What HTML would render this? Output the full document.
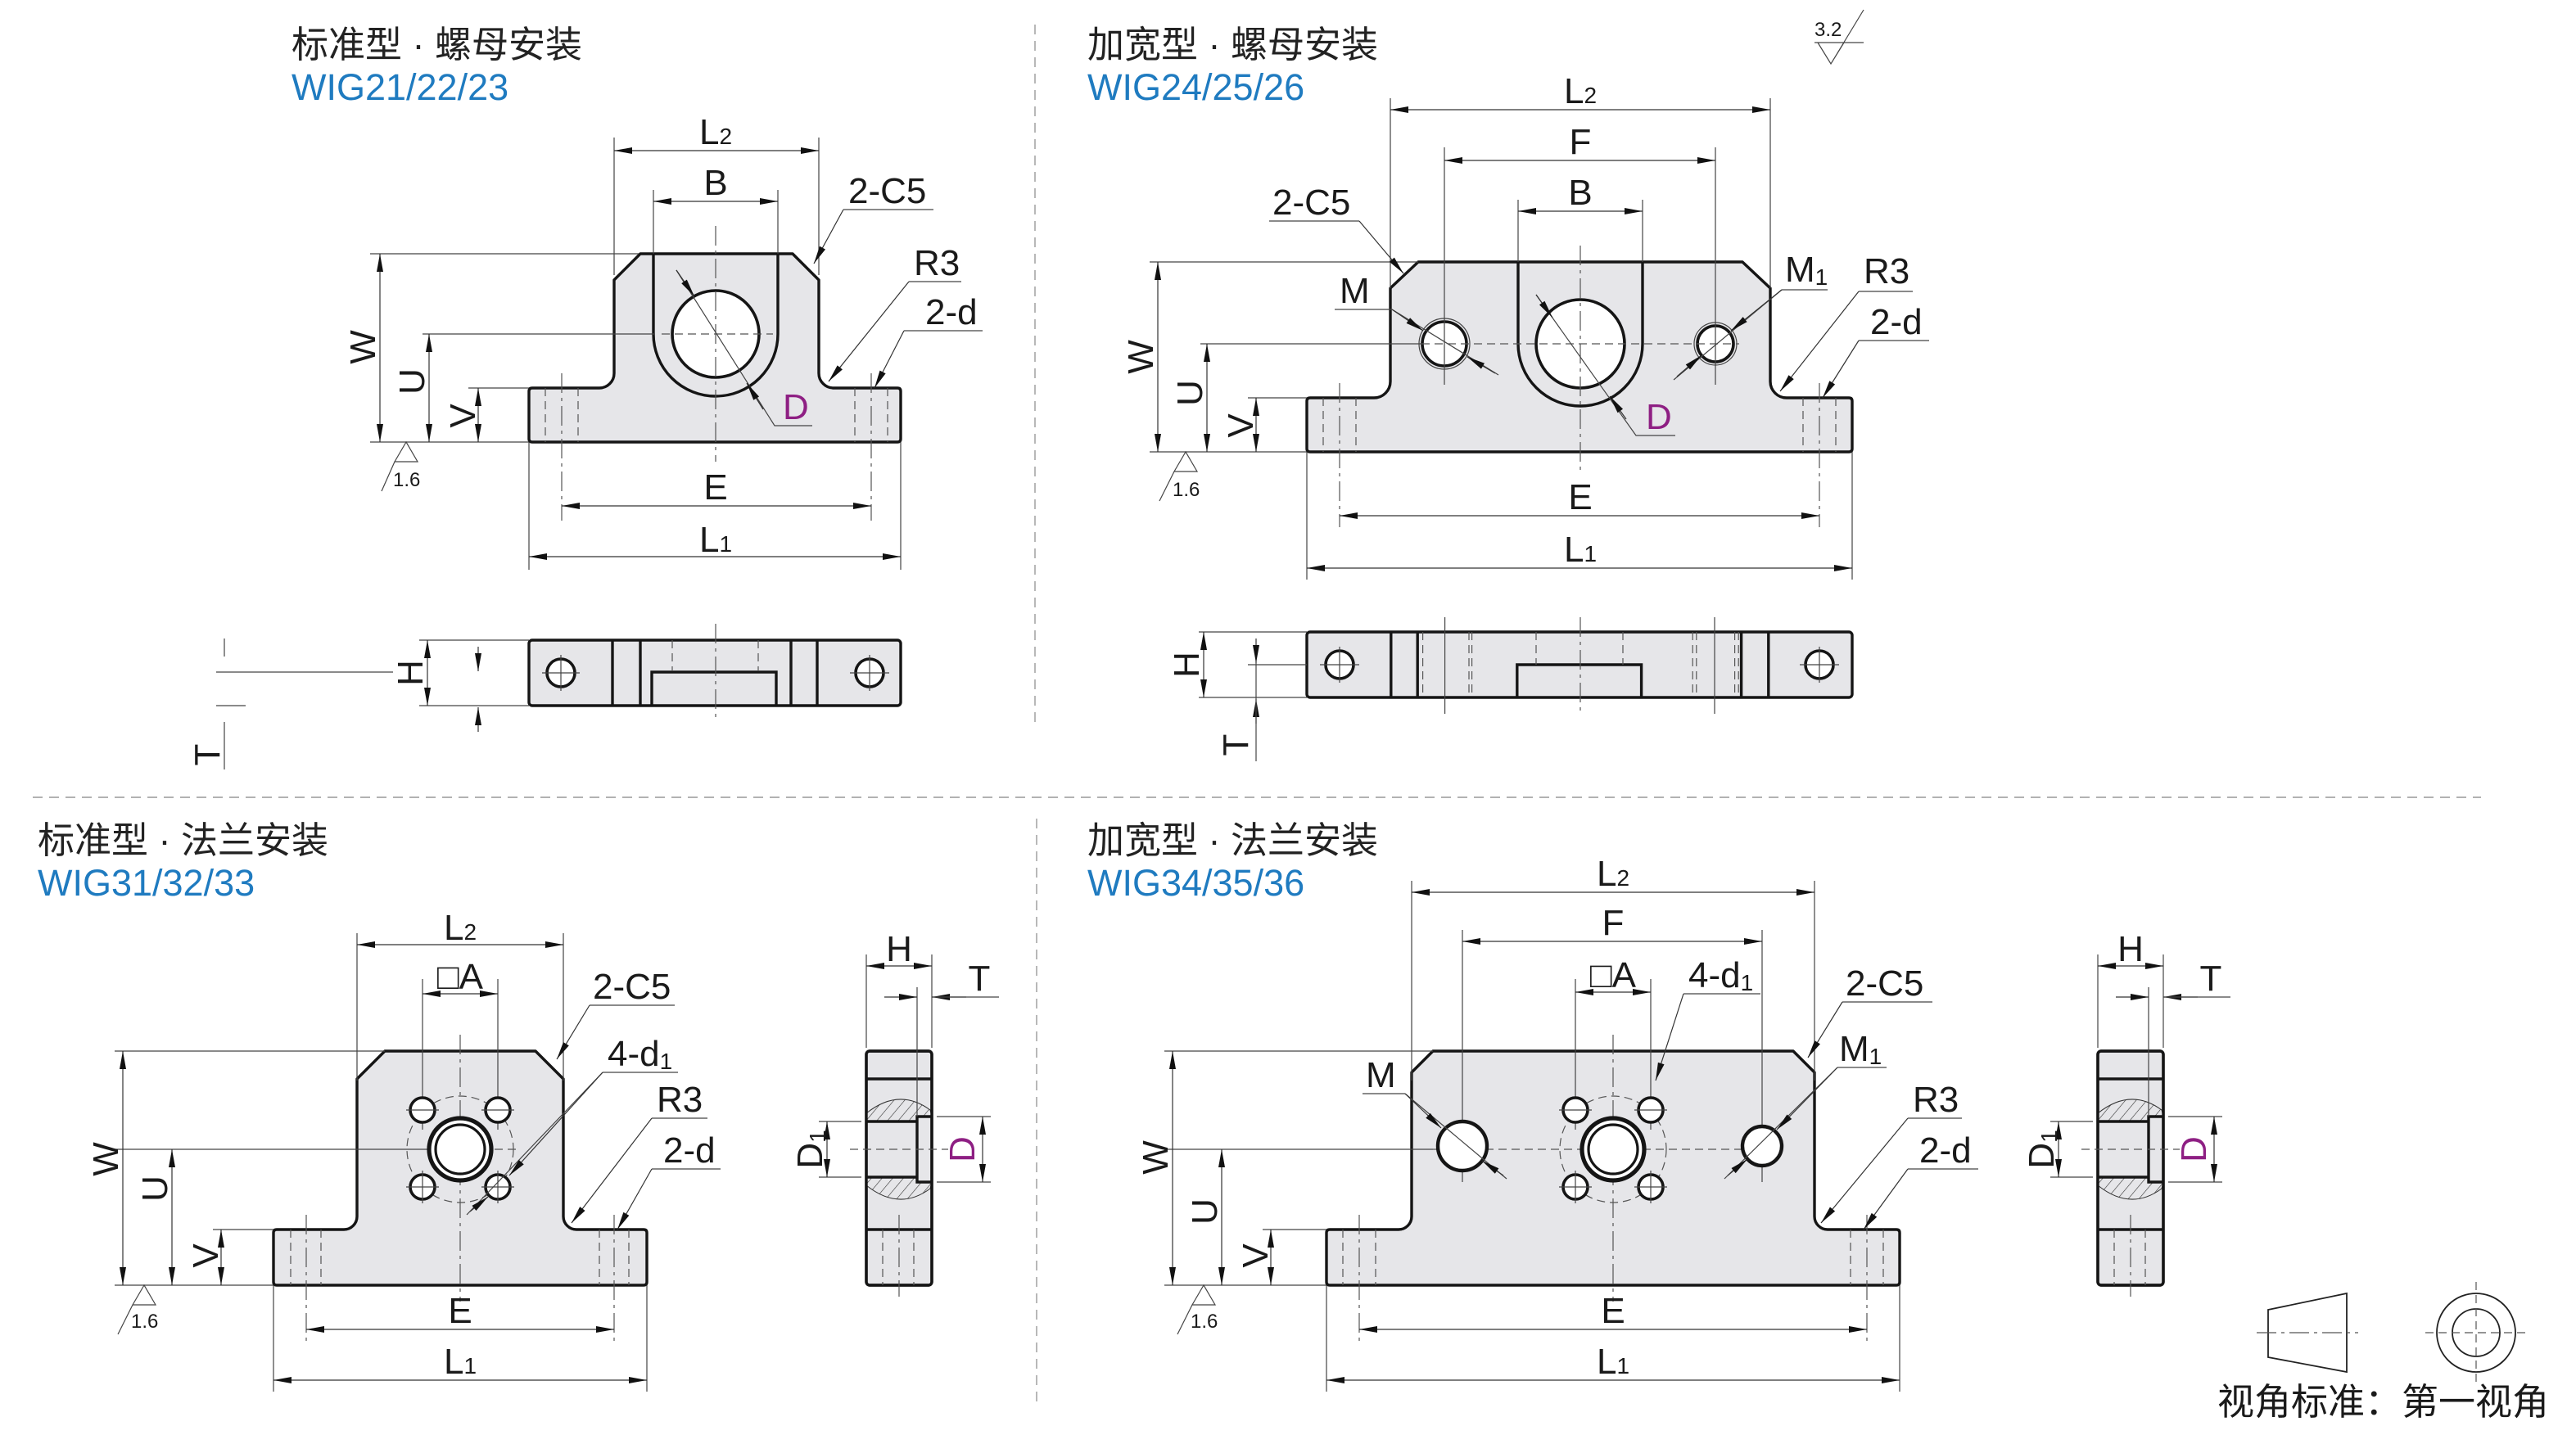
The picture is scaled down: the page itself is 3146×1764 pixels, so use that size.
<!DOCTYPE html>
<html><head><meta charset="utf-8"><style>
html,body{margin:0;padding:0;background:#fff}
svg{display:block}
.k{stroke:#151515;stroke-width:1.7;fill:#e6e6e9;stroke-linejoin:round}
.ko{stroke:#151515;stroke-width:1.7;fill:none}
.t{stroke:#444;stroke-width:0.6;fill:none}
.cl{stroke:#555;stroke-width:0.6;fill:none;stroke-dasharray:12 3 2 3}
.dh{stroke:#555;stroke-width:0.6;fill:none;stroke-dasharray:5 3}
.dm{stroke:#333;stroke-width:0.6;fill:none;marker-start:url(#a);marker-end:url(#a)}
.ld{stroke:#333;stroke-width:0.6;fill:none;marker-end:url(#a)}
.hole{fill:#fff;stroke:#151515;stroke-width:1.8}
text{font-family:"Liberation Sans","Noto Sans CJK SC",sans-serif;font-size:22px;fill:#1a1a1a}
.c{text-anchor:middle}
.ti{font-size:22.5px;fill:#222}
.bl{font-size:22.5px;fill:#1f7bc0}
.mg{fill:#8e1f83}
.s{font-size:14px}
</style></head><body>
<svg width="3146" height="1764" viewBox="0 0 1573 882" xmlns="http://www.w3.org/2000/svg">
<defs>
<marker id="a" viewBox="-12 -3 13 6" refX="0" refY="0" markerWidth="13" markerHeight="6" markerUnits="userSpaceOnUse" orient="auto-start-reverse">
<path d="M0,0 L-11,-2 L-11,2 Z" fill="#111"/></marker>
<pattern id="h" width="5" height="5" patternUnits="userSpaceOnUse" patternTransform="rotate(40)">
<rect width="5" height="5" fill="#e6e6e9"/><line x1="0" y1="0" x2="0" y2="5" stroke="#333" stroke-width="0.6"/></pattern>
</defs>

<line x1="632" y1="15" x2="632" y2="445" stroke="#999" stroke-width="0.7" stroke-dasharray="6 4"/>
<line x1="633" y1="500" x2="633" y2="860" stroke="#999" stroke-width="0.7" stroke-dasharray="6 4"/>
<line x1="20" y1="487" x2="1515" y2="487" stroke="#999" stroke-width="0.7" stroke-dasharray="6 4"/>

<text x="178" y="35" class="ti">标准型 · 螺母安装</text>
<text x="178" y="61" class="bl">WIG21/22/23</text>
<text x="664" y="35" class="ti">加宽型 · 螺母安装</text>
<text x="664" y="61" class="bl">WIG24/25/26</text>
<text x="23" y="521" class="ti">标准型 · 法兰安装</text>
<text x="23" y="547" class="bl">WIG31/32/33</text>
<text x="664" y="521" class="ti">加宽型 · 法兰安装</text>
<text x="664" y="547" class="bl">WIG34/35/36</text>

<text x="1108" y="22" style="font-size:12px">3.2</text>
<path d="M1108,26 L1138,26 M1110,26 L1118,39 L1126,26 M1118,39 L1138,6" class="t" stroke-width="0.8"/>

<!-- DRAWING 1 -->
<path class="k" d="M325,237 H366 A9,9 0 0 0 375,228 V171 L391,155 H484 L500,171 V228 A9,9 0 0 0 509,237 H548 Q550,237 550,239 V268 Q550,270 548,270 H325 Q323,270 323,268 V239 Q323,237 325,237 Z"/>
<path class="ko" d="M399,155 V204 A38,38 0 0 0 475,204 V155"/>
<circle class="hole" cx="437" cy="204" r="26.5"/>
<line class="cl" x1="437" y1="138" x2="437" y2="282"/>
<line class="t" x1="258" y1="204" x2="400" y2="204"/>
<line class="dh" x1="404" y1="204" x2="472" y2="204"/>
<line class="dh" x1="333" y1="237" x2="333" y2="270"/><line class="dh" x1="353" y1="237" x2="353" y2="270"/>
<line class="cl" x1="343" y1="228" x2="343" y2="318"/>
<line class="dh" x1="522" y1="237" x2="522" y2="270"/><line class="dh" x1="542" y1="237" x2="542" y2="270"/>
<line class="cl" x1="532" y1="228" x2="532" y2="318"/>
<line class="t" x1="375" y1="84" x2="375" y2="168"/><line class="t" x1="500" y1="84" x2="500" y2="168"/>
<line class="dm" x1="375" y1="92" x2="500" y2="92"/>
<text x="437" y="88" class="c">L<tspan class="s">2</tspan></text>
<line class="t" x1="399" y1="116" x2="399" y2="155"/><line class="t" x1="475" y1="116" x2="475" y2="155"/>
<line class="dm" x1="399" y1="123" x2="475" y2="123"/>
<text x="437" y="119" class="c">B</text>
<line class="t" x1="226" y1="155" x2="390" y2="155"/><line class="t" x1="226" y1="270" x2="323" y2="270"/>
<line class="dm" x1="232" y1="155" x2="232" y2="270"/>
<text transform="translate(229,212) rotate(-90)" class="c">W</text>
<line class="dm" x1="262" y1="204" x2="262" y2="270"/>
<text transform="translate(259,233) rotate(-90)" class="c">U</text>
<line class="t" x1="286" y1="237" x2="323" y2="237"/>
<line class="dm" x1="292" y1="237" x2="292" y2="270"/>
<text transform="translate(290,254) rotate(-90)" class="c">V</text>
<path class="t" stroke-width="0.8" d="M248,270 L241,282 H255 Z M241,282 L233,300"/>
<text x="240" y="297" style="font-size:12px">1.6</text>
<line class="dm" x1="343" y1="309" x2="532" y2="309"/>
<text x="437" y="305" class="c">E</text>
<line class="t" x1="323" y1="270" x2="323" y2="348"/><line class="t" x1="550" y1="270" x2="550" y2="348"/>
<line class="dm" x1="323" y1="340" x2="550" y2="340"/>
<text x="437" y="337" class="c">L<tspan class="s">1</tspan></text>
<text x="518" y="124">2-C5</text><line class="t" x1="515" y1="128" x2="570" y2="128"/>
<line class="ld" x1="515" y1="128" x2="497" y2="161"/>
<text x="558" y="168">R3</text><line class="t" x1="555" y1="172" x2="587" y2="172"/>
<line class="ld" x1="555" y1="172" x2="506" y2="233"/>
<text x="565" y="198">2-d</text><line class="t" x1="552" y1="202" x2="600" y2="202"/>
<line class="ld" x1="552" y1="202" x2="534" y2="237"/>
<path class="t" d="M413,165 L473,260 H496"/>
<line class="ld" x1="413" y1="165" x2="424" y2="181"/>
<line class="ld" x1="466" y1="250" x2="456" y2="234"/>
<text x="478" y="256" class="mg">D</text>
<rect class="k" x="323" y="391" width="227" height="40" rx="2"/>
<path class="ko" d="M374,391 V431 M391,391 V431 M483,391 V431 M499,391 V431 M398,431 V410.5 H474 V431"/>
<line class="dh" x1="410.5" y1="391" x2="410.5" y2="410"/><line class="dh" x1="463" y1="391" x2="463" y2="410"/>
<line class="cl" x1="437" y1="381" x2="437" y2="440"/>
<circle class="hole" cx="342.5" cy="411" r="8.5"/><circle class="hole" cx="531" cy="411" r="8.5"/>
<path class="t" d="M331,411 H354 M342.5,400 V422 M519,411 H543 M531,400 V422"/>
<line class="t" x1="256" y1="391" x2="323" y2="391"/><line class="t" x1="256" y1="431" x2="323" y2="431"/>
<line class="dm" x1="261" y1="391" x2="261" y2="431"/>
<text transform="translate(258,411) rotate(-90)" class="c">H</text>
<line class="ld" x1="292" y1="395" x2="292" y2="410"/>
<line class="ld" x1="292" y1="447" x2="292" y2="432"/>
<path class="t" d="M137,390 V401 M132,410.5 H240 M132,431 H150 M137,441 V470"/>
<text transform="translate(134,461) rotate(-90)" class="c">T</text>

<!-- DRAWING 2 -->
<path class="k" d="M800,243 H839 A10,10 0 0 0 849,233 V176 L866,160 H1064 L1081,176 V233 A10,10 0 0 0 1091,243 H1129 Q1131,243 1131,245 V274 Q1131,276 1129,276 H800 Q798,276 798,274 V245 Q798,243 800,243 Z"/>
<path class="ko" d="M927,160 V210 A38,38 0 0 0 1003,210 V160"/>
<circle class="hole" cx="965" cy="210" r="27"/>
<circle cx="882" cy="210" r="15.5" class="t"/><circle class="hole" cx="882" cy="210" r="13.5"/>
<circle cx="1047.5" cy="210" r="13" class="t"/><circle class="hole" cx="1047.5" cy="210" r="11"/>
<line class="cl" x1="965" y1="150" x2="965" y2="288"/>
<line class="t" x1="733" y1="210" x2="868" y2="210"/>
<line class="dh" x1="868" y1="210" x2="1062" y2="210"/>
<line class="t" x1="882" y1="90" x2="882" y2="235"/><line class="t" x1="1047.5" y1="90" x2="1047.5" y2="235"/>
<line class="dh" x1="808" y1="243" x2="808" y2="276"/><line class="dh" x1="828" y1="243" x2="828" y2="276"/>
<line class="cl" x1="818" y1="234" x2="818" y2="322"/>
<line class="dh" x1="1101" y1="243" x2="1101" y2="276"/><line class="dh" x1="1121" y1="243" x2="1121" y2="276"/>
<line class="cl" x1="1111" y1="234" x2="1111" y2="322"/>
<line class="t" x1="849" y1="60" x2="849" y2="176"/><line class="t" x1="1081" y1="60" x2="1081" y2="176"/>
<line class="dm" x1="849" y1="67" x2="1081" y2="67"/>
<text x="965" y="63" class="c">L<tspan class="s">2</tspan></text>
<line class="dm" x1="882" y1="98" x2="1047.5" y2="98"/>
<text x="965" y="94" class="c">F</text>
<line class="t" x1="927" y1="122" x2="927" y2="160"/><line class="t" x1="1003" y1="122" x2="1003" y2="160"/>
<line class="dm" x1="927" y1="129" x2="1003" y2="129"/>
<text x="965" y="125" class="c">B</text>
<line class="t" x1="702" y1="160" x2="866" y2="160"/><line class="t" x1="702" y1="276" x2="798" y2="276"/>
<line class="dm" x1="707" y1="160" x2="707" y2="276"/>
<text transform="translate(704,218) rotate(-90)" class="c">W</text>
<line class="dm" x1="737" y1="210" x2="737" y2="276"/>
<text transform="translate(734,240) rotate(-90)" class="c">U</text>
<line class="t" x1="762" y1="243" x2="798" y2="243"/>
<line class="dm" x1="767" y1="243" x2="767" y2="276"/>
<text transform="translate(765,260) rotate(-90)" class="c">V</text>
<path class="t" stroke-width="0.8" d="M724,276 L717,288 H731 Z M717,288 L708,306"/>
<text x="716" y="303" style="font-size:12px">1.6</text>
<line class="dm" x1="818" y1="315" x2="1111" y2="315"/>
<text x="965" y="311" class="c">E</text>
<line class="t" x1="798" y1="276" x2="798" y2="354"/><line class="t" x1="1131" y1="276" x2="1131" y2="354"/>
<line class="dm" x1="798" y1="347" x2="1131" y2="347"/>
<text x="965" y="343" class="c">L<tspan class="s">1</tspan></text>
<text x="777" y="131">2-C5</text><line class="t" x1="775" y1="135" x2="830" y2="135"/>
<line class="ld" x1="830" y1="135" x2="857" y2="167"/>
<text x="818" y="185">M</text><line class="t" x1="815" y1="189" x2="850" y2="189"/>
<path class="t" d="M850,189 L915,229"/>
<line class="ld" x1="850" y1="189" x2="869" y2="202"/>
<line class="ld" x1="913" y1="228" x2="896" y2="218"/>
<text x="1090" y="172">M<tspan class="s" dy="2">1</tspan></text><line class="t" x1="1088" y1="177" x2="1116" y2="177"/>
<path class="t" d="M1088,177 L1022,232"/>
<line class="ld" x1="1088" y1="177" x2="1057" y2="202"/>
<line class="ld" x1="1024" y1="230" x2="1039" y2="217"/>
<text x="1138" y="173">R3</text><line class="t" x1="1135" y1="178" x2="1168" y2="178"/>
<line class="ld" x1="1135" y1="178" x2="1087" y2="239"/>
<text x="1142" y="204">2-d</text><line class="t" x1="1135" y1="208" x2="1178" y2="208"/>
<line class="ld" x1="1135" y1="208" x2="1113" y2="243"/>
<path class="t" d="M938,180 L999,266 H1023"/>
<line class="ld" x1="938" y1="180" x2="948" y2="194"/>
<line class="ld" x1="993" y1="256" x2="983" y2="242"/>
<text x="1005" y="262" class="mg">D</text>
<rect class="k" x="798" y="386" width="333" height="40" rx="2"/>
<path class="ko" d="M849.4,386 V426 M865.6,386 V426 M1063.3,386 V426 M1079.9,386 V426 M926.4,426 V406 H1002.3 V426"/>
<g class="dh"><line x1="868.8" y1="386" x2="868.8" y2="426"/><line x1="897" y1="386" x2="897" y2="426"/><line x1="898.8" y1="386" x2="898.8" y2="426"/><line x1="938" y1="386" x2="938" y2="406"/><line x1="991" y1="386" x2="991" y2="406"/><line x1="1033.6" y1="386" x2="1033.6" y2="426"/><line x1="1035.9" y1="386" x2="1035.9" y2="426"/><line x1="1059.3" y1="386" x2="1059.3" y2="426"/><line x1="1061.6" y1="386" x2="1061.6" y2="426"/></g>
<line class="t" x1="882.3" y1="377" x2="882.3" y2="436"/><line class="cl" x1="965" y1="377" x2="965" y2="436"/><line class="t" x1="1047" y1="377" x2="1047" y2="436"/>
<circle class="hole" cx="818" cy="406" r="8.5"/><circle class="hole" cx="1111" cy="406" r="8.5"/>
<path class="t" d="M806,406 H830 M818,395 V417 M1099,406 H1123 M1111,395 V417 M762,406 H798"/>
<line class="t" x1="732" y1="386" x2="798" y2="386"/><line class="t" x1="732" y1="426" x2="798" y2="426"/>
<line class="dm" x1="735" y1="386" x2="735" y2="426"/>
<text transform="translate(732,406) rotate(-90)" class="c">H</text>
<line class="ld" x1="767" y1="390" x2="767" y2="405"/>
<line class="ld" x1="767" y1="442" x2="767" y2="427"/>
<line class="t" x1="767" y1="405" x2="767" y2="465"/>
<text transform="translate(762,455) rotate(-90)" class="c">T</text>

<!-- DRAWING 3 -->
<path class="k" d="M169,751 H210 A8,8 0 0 0 218,743 V659 L235,642 H327 L344,659 V743 A8,8 0 0 0 352,751 H393 Q395,751 395,753 V783 Q395,785 393,785 H169 Q167,785 167,783 V753 Q167,751 169,751 Z"/>
<circle cx="281" cy="702" r="32.5" class="dh"/>
<line class="cl" x1="281" y1="632" x2="281" y2="795"/>
<line class="t" x1="70" y1="702" x2="262" y2="702"/><line class="dh" x1="262" y1="702" x2="318" y2="702"/>
<line class="t" x1="258" y1="598" x2="258" y2="690"/><line class="t" x1="304" y1="598" x2="304" y2="690"/>
<circle class="hole" cx="258" cy="678" r="7.5"/><circle class="hole" cx="304" cy="678" r="7.5"/><circle class="hole" cx="258" cy="725" r="7.5"/><circle class="hole" cx="304" cy="725" r="7.5"/>
<path class="t" d="M248,678 H268 M294,678 H314 M248,725 H268 M294,725 H314 M258,715 V735 M304,715 V735"/>
<circle class="hole" cx="281" cy="702" r="19" style="stroke-width:2.6"/>
<circle cx="281" cy="702" r="15" class="hole" style="stroke-width:1.6"/>
<line class="dh" x1="177.5" y1="751" x2="177.5" y2="785"/><line class="dh" x1="196" y1="751" x2="196" y2="785"/>
<line class="cl" x1="187" y1="742" x2="187" y2="820"/>
<line class="dh" x1="366" y1="751" x2="366" y2="785"/><line class="dh" x1="384" y1="751" x2="384" y2="785"/>
<line class="cl" x1="375" y1="742" x2="375" y2="820"/>
<line class="t" x1="218" y1="570" x2="218" y2="660"/><line class="t" x1="344" y1="570" x2="344" y2="660"/>
<line class="dm" x1="218" y1="577" x2="344" y2="577"/>
<text x="281" y="574" class="c">L<tspan class="s">2</tspan></text>
<line class="dm" x1="258" y1="607" x2="304" y2="607"/>
<text x="281" y="604" class="c">□A</text>
<line class="t" x1="70" y1="642" x2="235" y2="642"/><line class="t" x1="70" y1="785" x2="167" y2="785"/>
<line class="dm" x1="75" y1="642" x2="75" y2="785"/>
<text transform="translate(72,708) rotate(-90)" class="c">W</text>
<line class="dm" x1="105" y1="702" x2="105" y2="785"/>
<text transform="translate(102,726) rotate(-90)" class="c">U</text>
<line class="t" x1="130" y1="751" x2="167" y2="751"/>
<line class="dm" x1="135" y1="751" x2="135" y2="785"/>
<text transform="translate(133,767) rotate(-90)" class="c">V</text>
<path class="t" stroke-width="0.8" d="M88,785 L81,797 H95 Z M81,797 L72,815"/>
<text x="80" y="811" style="font-size:12px">1.6</text>
<line class="dm" x1="187" y1="812" x2="375" y2="812"/>
<text x="281" y="808" class="c">E</text>
<line class="t" x1="167" y1="785" x2="167" y2="850"/><line class="t" x1="395" y1="785" x2="395" y2="850"/>
<line class="dm" x1="167" y1="843" x2="395" y2="843"/>
<text x="281" y="839" class="c">L<tspan class="s">1</tspan></text>
<text x="362" y="610">2-C5</text><line class="t" x1="360" y1="614" x2="412" y2="614"/>
<line class="ld" x1="360" y1="614" x2="340" y2="647"/>
<text x="371" y="651">4-d<tspan class="s" dy="2">1</tspan></text><line class="t" x1="368" y1="655" x2="414" y2="655"/>
<path class="t" d="M368,655 L285,742"/>
<line class="ld" x1="368" y1="655" x2="311" y2="718"/>
<line class="ld" x1="287" y1="740" x2="298" y2="731"/>
<text x="401" y="679">R3</text><line class="t" x1="398" y1="683" x2="432" y2="683"/>
<line class="ld" x1="398" y1="683" x2="349" y2="747"/>
<text x="405" y="710">2-d</text><line class="t" x1="398" y1="714" x2="440" y2="714"/>
<line class="ld" x1="398" y1="714" x2="377" y2="751"/>
<g id="sv">
<rect class="k" x="529" y="642" width="40" height="143" rx="2"/>
<path d="M529,680 Q549,664 568,678 L569,682 H560 V685 H529 Z" fill="url(#h)" stroke="#333" stroke-width="0.5"/>
<path d="M529,719 H560 V722 H569 L568,726 Q549,740 529,724 Z" fill="url(#h)" stroke="#333" stroke-width="0.5"/>
<path class="ko" d="M529,659 H569 M529,751 H569 M529,685 H560 M529,719 H560 M569,682 H560 V722 H569"/>
<rect x="529" y="642" width="40" height="143" rx="2" fill="none" stroke="#151515" stroke-width="1.7"/>
<line class="dh" x1="519" y1="702" x2="579" y2="702"/>
<line class="dh" x1="539" y1="751" x2="539" y2="785"/><line class="dh" x1="558" y1="751" x2="558" y2="785"/>
<line class="cl" x1="549" y1="742" x2="549" y2="792"/>
<line class="t" x1="500" y1="685" x2="526" y2="685"/><line class="t" x1="500" y1="719" x2="526" y2="719"/>
<line class="dm" x1="505" y1="685" x2="505" y2="719"/>
<text transform="translate(502,702) rotate(-90)" class="c">D<tspan class="s" dy="2">1</tspan></text>
<line class="t" x1="572" y1="682" x2="605" y2="682"/><line class="t" x1="572" y1="722" x2="605" y2="722"/>
<line class="dm" x1="600" y1="682" x2="600" y2="722"/>
<text transform="translate(595,702) rotate(-90)" class="c mg">D</text>
<line class="t" x1="529" y1="583" x2="529" y2="640"/><line class="t" x1="569" y1="583" x2="569" y2="640"/>
<line class="dm" x1="529" y1="590" x2="569" y2="590"/>
<text x="549" y="587" class="c">H</text>
<line class="t" x1="560" y1="603" x2="560" y2="682"/>
<line class="ld" x1="540" y1="609" x2="560" y2="609"/>
<line class="ld" x1="590" y1="609" x2="569" y2="609"/>
<line class="t" x1="569" y1="609" x2="610" y2="609"/>
<text x="598" y="605" class="c">T</text>
</g>

<!-- DRAWING 4 -->
<path class="k" d="M812,751 H854 A8,8 0 0 0 862,743 V655 L875,642 H1095 L1108,655 V743 A8,8 0 0 0 1116,751 H1158 Q1160,751 1160,753 V783 Q1160,785 1158,785 H812 Q810,785 810,783 V753 Q810,751 812,751 Z"/>
<circle cx="985" cy="702" r="32.5" class="dh"/>
<line class="cl" x1="985" y1="632" x2="985" y2="795"/>
<line class="t" x1="711" y1="702" x2="875" y2="702"/><line class="dh" x1="875" y1="702" x2="1090" y2="702"/>
<line class="t" x1="962" y1="598" x2="962" y2="690"/><line class="t" x1="1008" y1="598" x2="1008" y2="690"/>
<line class="t" x1="893" y1="568" x2="893" y2="722"/><line class="t" x1="1076" y1="568" x2="1076" y2="722"/>
<circle class="hole" cx="962" cy="678" r="7.5"/><circle class="hole" cx="1008" cy="678" r="7.5"/><circle class="hole" cx="962" cy="725" r="7.5"/><circle class="hole" cx="1008" cy="725" r="7.5"/>
<path class="t" d="M952,678 H972 M998,678 H1018 M952,725 H972 M998,725 H1018 M962,715 V735 M1008,715 V735"/>
<circle class="hole" cx="985" cy="702" r="19" style="stroke-width:2.6"/>
<circle cx="985" cy="702" r="15" class="hole" style="stroke-width:1.6"/>
<circle class="hole" cx="893" cy="700" r="15" style="stroke-width:2.2"/>
<circle class="hole" cx="1076" cy="700" r="12" style="stroke-width:2.2"/>
<line class="dh" x1="820" y1="751" x2="820" y2="785"/><line class="dh" x1="840" y1="751" x2="840" y2="785"/>
<line class="cl" x1="830" y1="742" x2="830" y2="820"/>
<line class="dh" x1="1130" y1="751" x2="1130" y2="785"/><line class="dh" x1="1150" y1="751" x2="1150" y2="785"/>
<line class="cl" x1="1140" y1="742" x2="1140" y2="820"/>
<line class="t" x1="862" y1="538" x2="862" y2="660"/><line class="t" x1="1108" y1="538" x2="1108" y2="660"/>
<line class="dm" x1="862" y1="545" x2="1108" y2="545"/>
<text x="985" y="541" class="c">L<tspan class="s">2</tspan></text>
<line class="dm" x1="893" y1="575" x2="1076" y2="575"/>
<text x="985" y="571" class="c">F</text>
<line class="dm" x1="962" y1="606" x2="1008" y2="606"/>
<text x="985" y="603" class="c">□A</text>
<line class="t" x1="711" y1="642" x2="875" y2="642"/><line class="t" x1="711" y1="785" x2="810" y2="785"/>
<line class="dm" x1="716" y1="642" x2="716" y2="785"/>
<text transform="translate(713,707) rotate(-90)" class="c">W</text>
<line class="dm" x1="746" y1="702" x2="746" y2="785"/>
<text transform="translate(743,740) rotate(-90)" class="c">U</text>
<line class="t" x1="771" y1="751" x2="810" y2="751"/>
<line class="dm" x1="776" y1="751" x2="776" y2="785"/>
<text transform="translate(774,767) rotate(-90)" class="c">V</text>
<path class="t" stroke-width="0.8" d="M735,785 L728,797 H742 Z M728,797 L719,815"/>
<text x="727" y="811" style="font-size:12px">1.6</text>
<line class="dm" x1="830" y1="812" x2="1140" y2="812"/>
<text x="985" y="808" class="c">E</text>
<line class="t" x1="810" y1="785" x2="810" y2="850"/><line class="t" x1="1160" y1="785" x2="1160" y2="850"/>
<line class="dm" x1="810" y1="843" x2="1160" y2="843"/>
<text x="985" y="839" class="c">L<tspan class="s">1</tspan></text>
<text x="1031" y="603">4-d<tspan class="s" dy="2">1</tspan></text><line class="t" x1="1028" y1="607" x2="1075" y2="607"/>
<line class="ld" x1="1028" y1="607" x2="1011" y2="660"/>
<text x="1127" y="608">2-C5</text><line class="t" x1="1125" y1="612" x2="1180" y2="612"/>
<line class="ld" x1="1125" y1="612" x2="1104" y2="646"/>
<text x="834" y="664">M</text><line class="t" x1="832" y1="668" x2="858" y2="668"/>
<path class="t" d="M858,668 L920,720"/>
<line class="ld" x1="858" y1="668" x2="880" y2="689"/>
<line class="ld" x1="918" y1="718" x2="905" y2="709"/>
<text x="1123" y="648">M<tspan class="s" dy="2">1</tspan></text><line class="t" x1="1122" y1="652" x2="1152" y2="652"/>
<path class="t" d="M1122,652 L1053,720"/>
<line class="ld" x1="1122" y1="652" x2="1085" y2="690"/>
<line class="ld" x1="1055" y1="718" x2="1067" y2="708"/>
<text x="1168" y="679">R3</text><line class="t" x1="1165" y1="683" x2="1198" y2="683"/>
<line class="ld" x1="1165" y1="683" x2="1112" y2="747"/>
<text x="1172" y="710">2-d</text><line class="t" x1="1165" y1="714" x2="1208" y2="714"/>
<line class="ld" x1="1165" y1="714" x2="1138" y2="751"/>
<use href="#sv" x="752" y="0"/>

<!-- legend -->
<path d="M1385,800 L1433,790 V838 L1385,829 Z" fill="none" stroke="#222" stroke-width="0.9"/>
<line class="cl" x1="1378" y1="814" x2="1440" y2="814"/>
<circle cx="1512" cy="814" r="24" fill="none" stroke="#222" stroke-width="0.9"/>
<circle cx="1512" cy="814" r="14.5" fill="none" stroke="#222" stroke-width="0.9"/>
<path class="dh" d="M1481,814 H1543 M1512,783 V845"/>
<text x="1354" y="864" style="font-size:22.5px">视角标准：第一视角</text>
</svg>
</body></html>
